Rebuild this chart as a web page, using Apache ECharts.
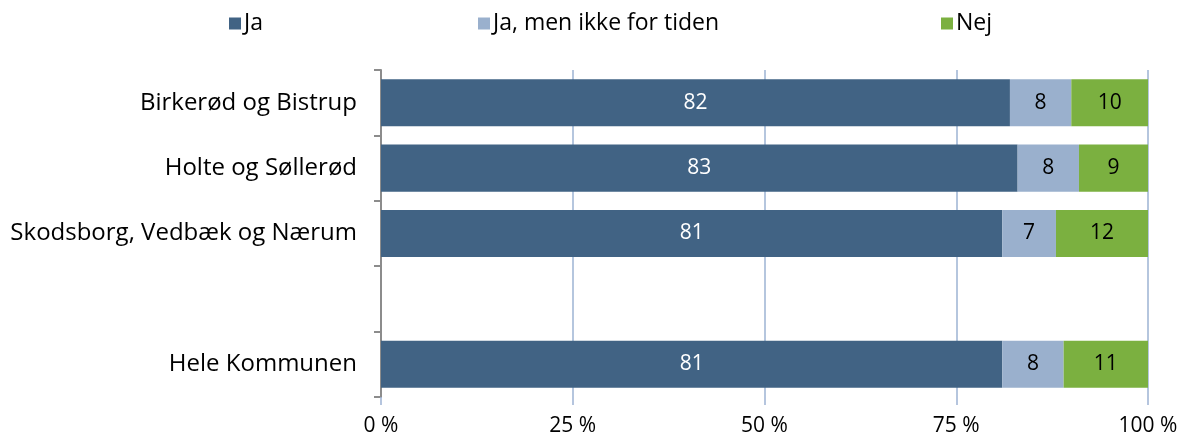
<!DOCTYPE html>
<html><head><meta charset="utf-8">
<script src="https://cdn.jsdelivr.net/npm/echarts@6/dist/echarts.min.js"></script>
<style>html,body{margin:0;padding:0;background:#fff}#c{width:1187px;height:437px}</style>
</head><body><div id="c"></div>
<script>
const categories = ['Birkerød og Bistrup', 'Holte og Søllerød', 'Skodsborg, Vedbæk og Nærum', '', 'Hele Kommunen'];
const seriesNames = ['Ja', 'Ja, men ikke for tiden', 'Nej'];
const ja = [82, 83, 81, '-', 81];
const jaMen = [8, 8, 7, '-', 8];
const nej = [10, 9, 12, '-', 11];
const xTicks = ['0 %', '25 %', '50 %', '75 %', '100 %'];
const colors = ['#416384', '#9ab0cd', '#7bb040'];
const labelColors = ['#ffffff', '#000000', '#000000'];
const font = 'Open Sans';

const chart = echarts.init(document.getElementById('c'));
const values = [ja, jaMen, nej];
const legendLefts = [224, 473, 936];
chart.setOption({
  animation: false,
  textStyle: {fontFamily: font},
  legend: seriesNames.map((n, i) => ({
    data: [n], left: legendLefts[i], top: 7, icon: 'rect', itemWidth: 12, itemHeight: 12, itemGap: 4,
    textStyle: {fontSize: 23, color: '#000', fontFamily: font, padding: [0, 0, 0, -2]}
  })),
  grid: {left: 381, right: 39, top: 70, bottom: 40},
  xAxis: {
    type: 'value', min: 0, max: 100, interval: 25,
    axisLine: {show: false},
    axisTick: {show: true, length: 8, lineStyle: {color: '#9db3d3', width: 1.5}},
    splitLine: {show: true, lineStyle: {color: '#9db3d3', width: 1.5}},
    axisLabel: {margin: 19, fontSize: 21, color: '#000', fontFamily: font,
      formatter: (v) => xTicks[Math.round(v / 25)]}
  },
  yAxis: {
    type: 'category', data: categories, inverse: true,
    axisLine: {show: true, lineStyle: {color: '#8c8c8c', width: 2}},
    axisTick: {show: true, length: 7, lineStyle: {color: '#8c8c8c', width: 2}},
    axisLabel: {margin: 24, fontSize: 24, color: '#000', fontFamily: font}
  },
  series: seriesNames.map((n, i) => ({
    name: n, type: 'bar', stack: 'a', data: values[i], barWidth: '72%',
    itemStyle: {color: colors[i]},
    label: {show: true, position: 'inside', color: labelColors[i], fontSize: 21, fontFamily: font}
  }))
});
</script></body></html>
